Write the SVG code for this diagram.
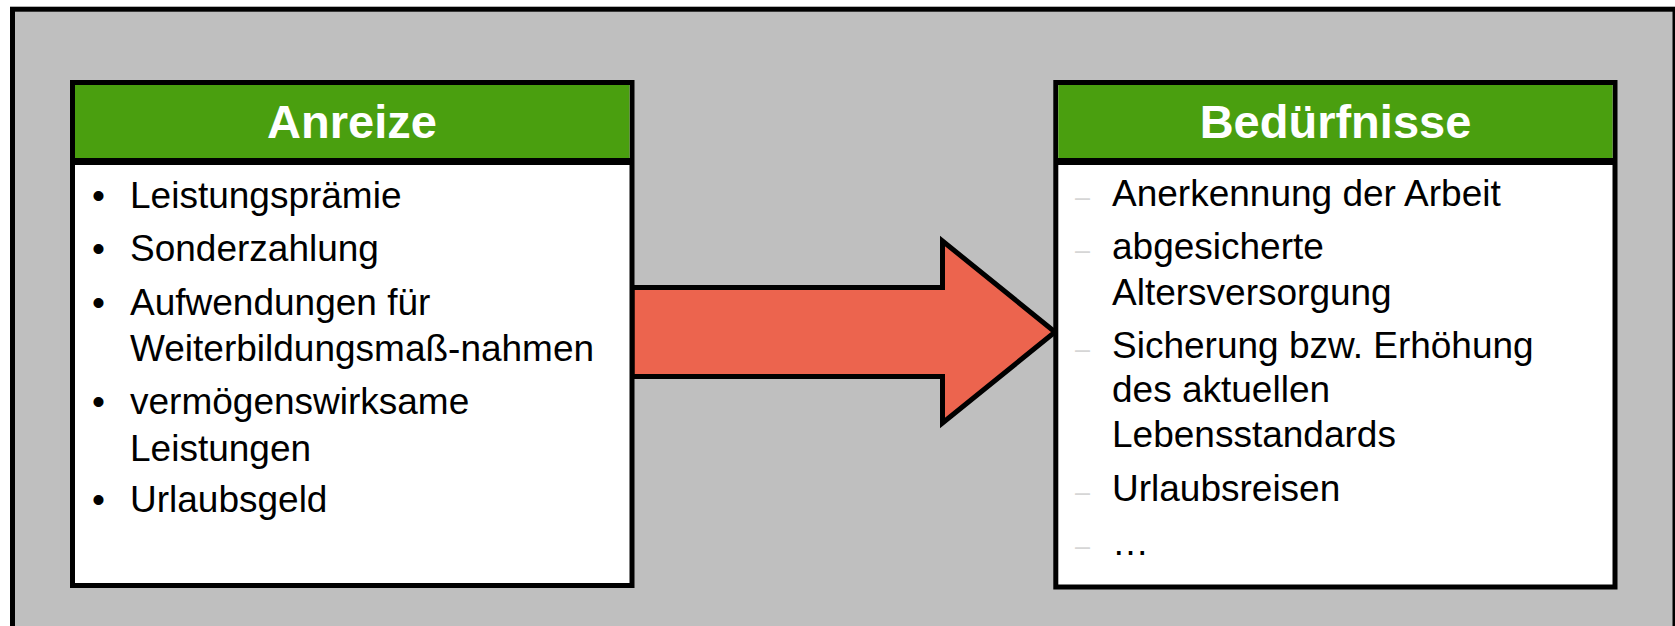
<svg xmlns="http://www.w3.org/2000/svg" width="1675" height="626" viewBox="0 0 1675 626">
<style>
.frame{fill:#bfbfbf;stroke:#000;stroke-width:5}
.box{fill:#fff;stroke:#000;stroke-width:5}
.hdr{fill:#4a9f0f}
.sep{stroke:#000;stroke-width:7}
.ht{font-family:"Liberation Sans",Arial,sans-serif;font-weight:bold;font-size:47px;fill:#fff;text-anchor:middle}
.t{font-family:"Liberation Sans",Arial,sans-serif;font-size:37px;fill:#000}
.d{font-family:"Liberation Sans",Arial,sans-serif;font-size:27px;fill:#d6d6d6}
.arrow{fill:#ec644e;stroke:#000;stroke-width:5;stroke-linejoin:miter}
</style>
<rect x="0" y="0" width="1675" height="626" fill="#fff"/>
<rect class="frame" x="12.5" y="9.2" width="1662.5" height="640"/>
<g id="connectors">
<polygon class="arrow" points="632,287.5 942.5,287.5 942.5,241 1055,332 942.5,423 942.5,376.5 632,376.5"/>
</g>
<g id="anreize">
<rect class="box" x="72.5" y="82.5" width="559.5" height="503"/>
<rect class="hdr" x="75" y="85" width="554.5" height="73"/>
<line class="sep" x1="72.5" y1="161.5" x2="632" y2="161.5"/>
<text class="ht" x="352" y="138">Anreize</text>
<text class="t" x="92" y="208">•</text><text class="t" x="130" y="208">Leistungsprämie</text>
<text class="t" x="92" y="261">•</text><text class="t" x="130" y="261">Sonderzahlung</text>
<text class="t" x="92" y="315">•</text><text class="t" x="130" y="315">Aufwendungen für</text>
<text class="t" x="130" y="360.7">Weiterbildungsmaß-nahmen</text>
<text class="t" x="92" y="414">•</text><text class="t" x="130" y="414">vermögenswirksame</text>
<text class="t" x="130" y="460.7">Leistungen</text>
<text class="t" x="92" y="511.7">•</text><text class="t" x="130" y="511.7">Urlaubsgeld</text>
</g>
<g id="beduerfnisse">
<rect class="box" x="1055.8" y="82.5" width="559.2" height="504.5"/>
<rect class="hdr" x="1058.3" y="85" width="554.2" height="73"/>
<line class="sep" x1="1055.8" y1="161.5" x2="1615" y2="161.5"/>
<text class="ht" x="1335.5" y="138">Bedürfnisse</text>
<text class="d" x="1075" y="205.7">–</text><text class="t" x="1112" y="205.7">Anerkennung der Arbeit</text>
<text class="d" x="1075" y="259">–</text><text class="t" x="1112" y="259">abgesicherte</text>
<text class="t" x="1112" y="305">Altersversorgung</text>
<text class="d" x="1075" y="358">–</text><text class="t" x="1112" y="358">Sicherung bzw. Erhöhung</text>
<text class="t" x="1112" y="401.7">des aktuellen</text>
<text class="t" x="1112" y="446.7">Lebensstandards</text>
<text class="d" x="1075" y="501">–</text><text class="t" x="1112" y="501">Urlaubsreisen</text>
<text class="d" x="1075" y="555">–</text><text class="t" x="1112" y="555">…</text>
</g>
</svg>
